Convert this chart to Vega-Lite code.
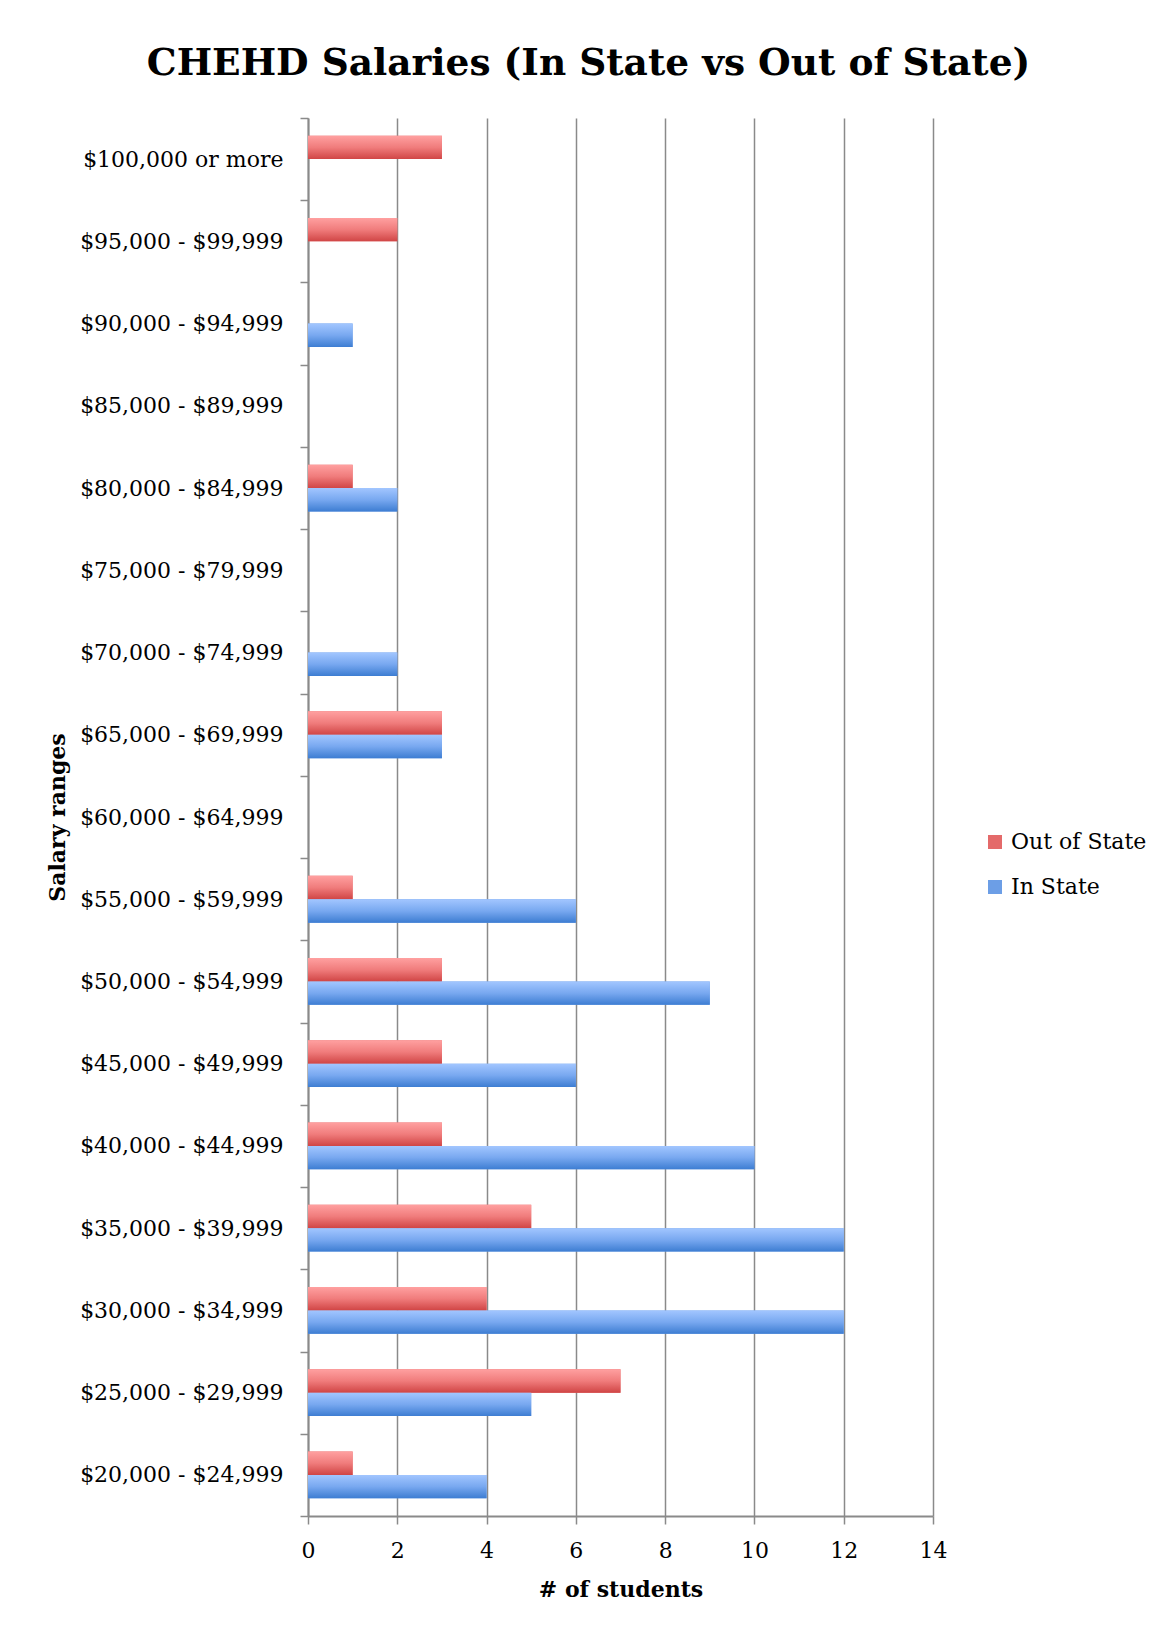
{
  "$schema": "https://vega.github.io/schema/vega-lite/v6.json",
  "autosize": "none",
  "width": 625,
  "height": 1398,
  "padding": {"left": 308, "top": 118, "right": 228, "bottom": 116},
  "background": "white",
  "title": {
    "text": "CHEHD Salaries (In State vs Out of State)",
    "font": "DejaVu Serif",
    "fontSize": 37.5,
    "fontWeight": "bold",
    "color": "black",
    "anchor": "middle",
    "baseline": "alphabetic",
    "offset": -5,
    "dx": -32
  },
  "data": {
    "values": [
      {"range": "$100,000 or more", "series": "Out of State", "students": 3},
      {"range": "$100,000 or more", "series": "In State", "students": 0},
      {"range": "$95,000 - $99,999", "series": "Out of State", "students": 2},
      {"range": "$95,000 - $99,999", "series": "In State", "students": 0},
      {"range": "$90,000 - $94,999", "series": "Out of State", "students": 0},
      {"range": "$90,000 - $94,999", "series": "In State", "students": 1},
      {"range": "$85,000 - $89,999", "series": "Out of State", "students": 0},
      {"range": "$85,000 - $89,999", "series": "In State", "students": 0},
      {"range": "$80,000 - $84,999", "series": "Out of State", "students": 1},
      {"range": "$80,000 - $84,999", "series": "In State", "students": 2},
      {"range": "$75,000 - $79,999", "series": "Out of State", "students": 0},
      {"range": "$75,000 - $79,999", "series": "In State", "students": 0},
      {"range": "$70,000 - $74,999", "series": "Out of State", "students": 0},
      {"range": "$70,000 - $74,999", "series": "In State", "students": 2},
      {"range": "$65,000 - $69,999", "series": "Out of State", "students": 3},
      {"range": "$65,000 - $69,999", "series": "In State", "students": 3},
      {"range": "$60,000 - $64,999", "series": "Out of State", "students": 0},
      {"range": "$60,000 - $64,999", "series": "In State", "students": 0},
      {"range": "$55,000 - $59,999", "series": "Out of State", "students": 1},
      {"range": "$55,000 - $59,999", "series": "In State", "students": 6},
      {"range": "$50,000 - $54,999", "series": "Out of State", "students": 3},
      {"range": "$50,000 - $54,999", "series": "In State", "students": 9},
      {"range": "$45,000 - $49,999", "series": "Out of State", "students": 3},
      {"range": "$45,000 - $49,999", "series": "In State", "students": 6},
      {"range": "$40,000 - $44,999", "series": "Out of State", "students": 3},
      {"range": "$40,000 - $44,999", "series": "In State", "students": 10},
      {"range": "$35,000 - $39,999", "series": "Out of State", "students": 5},
      {"range": "$35,000 - $39,999", "series": "In State", "students": 12},
      {"range": "$30,000 - $34,999", "series": "Out of State", "students": 4},
      {"range": "$30,000 - $34,999", "series": "In State", "students": 12},
      {"range": "$25,000 - $29,999", "series": "Out of State", "students": 7},
      {"range": "$25,000 - $29,999", "series": "In State", "students": 5},
      {"range": "$20,000 - $24,999", "series": "Out of State", "students": 1},
      {"range": "$20,000 - $24,999", "series": "In State", "students": 4}
    ]
  },
  "encoding": {
    "x": {
      "field": "students",
      "type": "quantitative",
      "scale": {"domain": [0, 14], "nice": false},
      "axis": {
        "values": [0, 2, 4, 6, 8, 10, 12, 14],
        "grid": true,
        "gridColor": "#8a8a8a",
        "gridWidth": 1.5,
        "domainColor": "#8a8a8a",
        "domainWidth": 2,
        "tickColor": "#8a8a8a",
        "tickWidth": 1.5,
        "tickSize": 8,
        "labelFlush": false,
        "labelFont": "DejaVu Serif",
        "labelFontSize": 22,
        "labelColor": "black",
        "labelPadding": 16,
        "title": "# of students",
        "titleFont": "DejaVu Serif",
        "titleFontSize": 22,
        "titleFontWeight": "bold",
        "titleColor": "black",
        "titlePadding": 18
      }
    },
    "y": {
      "field": "range",
      "type": "nominal",
      "sort": ["$100,000 or more", "$95,000 - $99,999", "$90,000 - $94,999", "$85,000 - $89,999", "$80,000 - $84,999", "$75,000 - $79,999", "$70,000 - $74,999", "$65,000 - $69,999", "$60,000 - $64,999", "$55,000 - $59,999", "$50,000 - $54,999", "$45,000 - $49,999", "$40,000 - $44,999", "$35,000 - $39,999", "$30,000 - $34,999", "$25,000 - $29,999", "$20,000 - $24,999"],
      "scale": {"paddingInner": 0, "paddingOuter": 0},
      "axis": {
        "tickBand": "extent",
        "grid": false,
        "domainColor": "#8a8a8a",
        "domainWidth": 2,
        "tickColor": "#8a8a8a",
        "tickWidth": 1.5,
        "tickSize": 8,
        "labelFont": "DejaVu Serif",
        "labelFontSize": 22,
        "labelColor": "black",
        "labelPadding": 17,
        "labelLimit": 0,
        "title": "Salary ranges",
        "titleFont": "DejaVu Serif",
        "titleFontSize": 22,
        "titleFontWeight": "bold",
        "titleColor": "black",
        "titleX": -244,
        "titleY": 699,
        "titleAngle": -90,
        "titleBaseline": "alphabetic"
      }
    },
    "yOffset": {
      "field": "series",
      "type": "nominal",
      "sort": ["Out of State", "In State"],
      "scale": {"domain": ["Out of State", "In State"], "paddingOuter": 0.757, "paddingInner": 0}
    }
  },
  "layer": [
    {
      "mark": {"type": "bar"},
      "encoding": {
        "color": {
          "field": "series",
          "type": "nominal",
          "scale": {"domain": ["Out of State", "In State"], "range": ["#e46a6a", "#6c9ee6"]},
          "legend": {
            "title": null,
            "orient": "none",
            "legendX": 676,
            "legendY": 713,
            "symbolType": "square",
            "symbolSize": 196,
            "symbolStrokeWidth": 0,
            "labelFont": "DejaVu Serif",
            "labelFontSize": 22,
            "labelColor": "black",
            "labelOffset": 5,
            "rowPadding": 23
          }
        }
      }
    },
    {
      "transform": [{"filter": "datum.series === 'Out of State'"}],
      "mark": {
        "type": "bar",
        "fill": {
          "gradient": "linear", "x1": 0, "y1": 0, "x2": 0, "y2": 1,
          "stops": [{"offset": 0, "color": "#ffa0a0"}, {"offset": 0.5, "color": "#f07c7c"}, {"offset": 1, "color": "#d04545"}]
        }
      }
    },
    {
      "transform": [{"filter": "datum.series === 'In State'"}],
      "mark": {
        "type": "bar",
        "fill": {
          "gradient": "linear", "x1": 0, "y1": 0, "x2": 0, "y2": 1,
          "stops": [{"offset": 0, "color": "#a2c6ff"}, {"offset": 0.5, "color": "#78a8f0"}, {"offset": 1, "color": "#3d7dd2"}]
        }
      }
    }
  ],
  "config": {"view": {"stroke": null}}
}
